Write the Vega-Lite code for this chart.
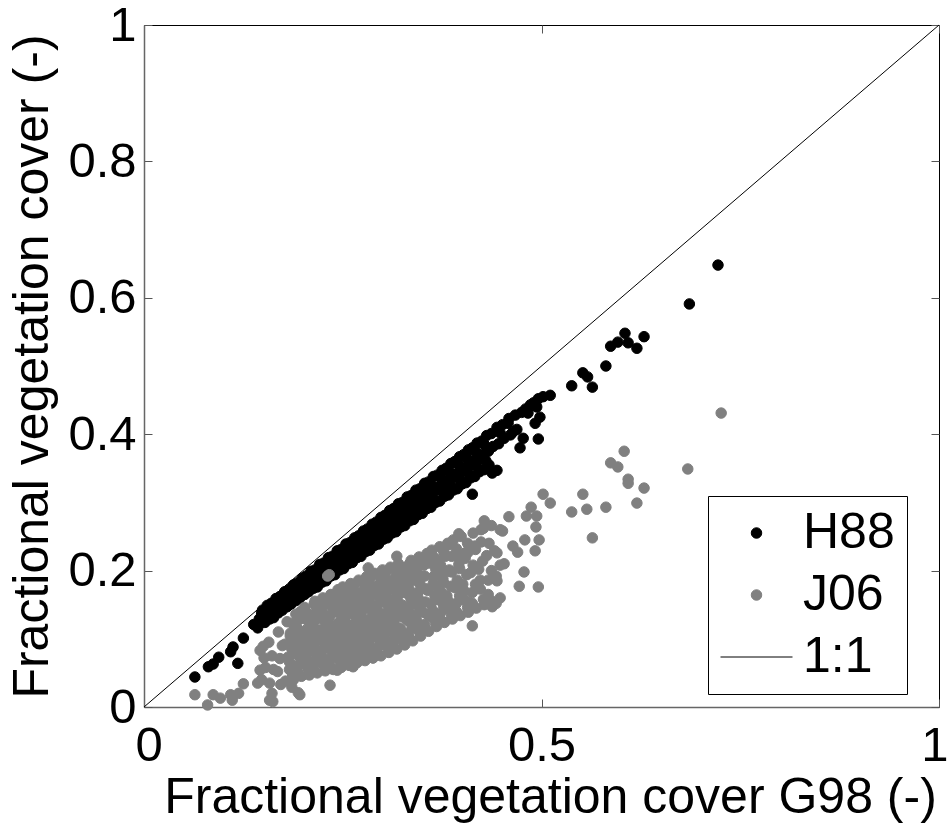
{
  "$schema": "https://vega.github.io/schema/vega-lite/v6.json",
  "width": 795,
  "height": 682,
  "autosize": "none",
  "padding": {"left": 144, "top": 25, "right": 10, "bottom": 117},
  "background": "white",
  "config": {
    "font": "Liberation Sans",
    "view": {"stroke": "#000000", "strokeWidth": 1}
  },
  "datasets": {
    "ref": [{"x": 0, "y": 0}, {"x": 1, "y": 1}],
    "pts": [
      {"s":"H88","x":0.064,"y":0.044},{"s":"H88","x":0.081,"y":0.059},{"s":"H88","x":0.087,"y":0.063},{"s":"H88","x":0.094,"y":0.073},
      {"s":"H88","x":0.109,"y":0.081},{"s":"H88","x":0.112,"y":0.088},{"s":"H88","x":0.118,"y":0.064},{"s":"H88","x":0.125,"y":0.101},
      {"s":"H88","x":0.138,"y":0.121},{"s":"H88","x":0.143,"y":0.116},{"s":"H88","x":0.145,"y":0.129},{"s":"H88","x":0.148,"y":0.138},
      {"s":"H88","x":0.149,"y":0.142},{"s":"H88","x":0.151,"y":0.134},{"s":"H88","x":0.152,"y":0.124},
      {"s":"H88","x":0.155,"y":0.149},{"s":"H88","x":0.157,"y":0.137},{"s":"H88","x":0.158,"y":0.129},
      {"s":"H88","x":0.160,"y":0.152},{"s":"H88","x":0.162,"y":0.143},{"s":"H88","x":0.163,"y":0.131},
      {"s":"H88","x":0.166,"y":0.159},{"s":"H88","x":0.168,"y":0.147},{"s":"H88","x":0.169,"y":0.138},
      {"s":"H88","x":0.171,"y":0.162},{"s":"H88","x":0.173,"y":0.153},{"s":"H88","x":0.174,"y":0.142},
      {"s":"H88","x":0.177,"y":0.169},{"s":"H88","x":0.179,"y":0.156},{"s":"H88","x":0.180,"y":0.147},
      {"s":"H88","x":0.182,"y":0.172},{"s":"H88","x":0.184,"y":0.162},{"s":"H88","x":0.185,"y":0.151},
      {"s":"H88","x":0.188,"y":0.179},{"s":"H88","x":0.190,"y":0.166},{"s":"H88","x":0.191,"y":0.156},
      {"s":"H88","x":0.193,"y":0.182},{"s":"H88","x":0.195,"y":0.172},{"s":"H88","x":0.196,"y":0.160},
      {"s":"H88","x":0.199,"y":0.189},{"s":"H88","x":0.201,"y":0.175},{"s":"H88","x":0.202,"y":0.165},
      {"s":"H88","x":0.204,"y":0.192},{"s":"H88","x":0.206,"y":0.181},{"s":"H88","x":0.207,"y":0.169},
      {"s":"H88","x":0.210,"y":0.199},{"s":"H88","x":0.212,"y":0.184},{"s":"H88","x":0.213,"y":0.174},
      {"s":"H88","x":0.215,"y":0.201},{"s":"H88","x":0.217,"y":0.191},{"s":"H88","x":0.218,"y":0.176},
      {"s":"H88","x":0.221,"y":0.209},{"s":"H88","x":0.223,"y":0.194},{"s":"H88","x":0.224,"y":0.183},
      {"s":"H88","x":0.226,"y":0.211},{"s":"H88","x":0.228,"y":0.200},{"s":"H88","x":0.229,"y":0.185},
      {"s":"H88","x":0.232,"y":0.219},{"s":"H88","x":0.234,"y":0.203},{"s":"H88","x":0.235,"y":0.192},
      {"s":"H88","x":0.237,"y":0.221},{"s":"H88","x":0.239,"y":0.210},{"s":"H88","x":0.240,"y":0.194},
      {"s":"H88","x":0.243,"y":0.229},{"s":"H88","x":0.245,"y":0.213},{"s":"H88","x":0.246,"y":0.201},
      {"s":"H88","x":0.248,"y":0.231},{"s":"H88","x":0.250,"y":0.219},{"s":"H88","x":0.251,"y":0.203},
      {"s":"H88","x":0.254,"y":0.239},{"s":"H88","x":0.256,"y":0.222},{"s":"H88","x":0.257,"y":0.210},
      {"s":"H88","x":0.259,"y":0.241},{"s":"H88","x":0.261,"y":0.229},{"s":"H88","x":0.262,"y":0.212},
      {"s":"H88","x":0.265,"y":0.248},{"s":"H88","x":0.267,"y":0.232},{"s":"H88","x":0.268,"y":0.219},
      {"s":"H88","x":0.270,"y":0.251},{"s":"H88","x":0.272,"y":0.238},{"s":"H88","x":0.273,"y":0.221},
      {"s":"H88","x":0.276,"y":0.258},{"s":"H88","x":0.278,"y":0.241},{"s":"H88","x":0.279,"y":0.228},
      {"s":"H88","x":0.281,"y":0.261},{"s":"H88","x":0.283,"y":0.248},{"s":"H88","x":0.284,"y":0.230},
      {"s":"H88","x":0.287,"y":0.268},{"s":"H88","x":0.289,"y":0.251},{"s":"H88","x":0.290,"y":0.237},
      {"s":"H88","x":0.292,"y":0.271},{"s":"H88","x":0.294,"y":0.257},{"s":"H88","x":0.295,"y":0.239},
      {"s":"H88","x":0.298,"y":0.278},{"s":"H88","x":0.300,"y":0.260},{"s":"H88","x":0.301,"y":0.246},
      {"s":"H88","x":0.303,"y":0.281},{"s":"H88","x":0.305,"y":0.266},{"s":"H88","x":0.306,"y":0.248},
      {"s":"H88","x":0.309,"y":0.288},{"s":"H88","x":0.311,"y":0.270},{"s":"H88","x":0.312,"y":0.255},
      {"s":"H88","x":0.314,"y":0.291},{"s":"H88","x":0.316,"y":0.276},{"s":"H88","x":0.317,"y":0.257},
      {"s":"H88","x":0.320,"y":0.298},{"s":"H88","x":0.322,"y":0.279},{"s":"H88","x":0.323,"y":0.264},
      {"s":"H88","x":0.325,"y":0.300},{"s":"H88","x":0.327,"y":0.285},{"s":"H88","x":0.328,"y":0.266},
      {"s":"H88","x":0.331,"y":0.308},{"s":"H88","x":0.333,"y":0.289},{"s":"H88","x":0.334,"y":0.273},
      {"s":"H88","x":0.336,"y":0.310},{"s":"H88","x":0.338,"y":0.295},{"s":"H88","x":0.339,"y":0.275},
      {"s":"H88","x":0.342,"y":0.318},{"s":"H88","x":0.344,"y":0.298},{"s":"H88","x":0.345,"y":0.282},
      {"s":"H88","x":0.347,"y":0.320},{"s":"H88","x":0.349,"y":0.304},{"s":"H88","x":0.350,"y":0.284},
      {"s":"H88","x":0.353,"y":0.328},{"s":"H88","x":0.355,"y":0.307},{"s":"H88","x":0.356,"y":0.291},
      {"s":"H88","x":0.358,"y":0.330},{"s":"H88","x":0.360,"y":0.314},{"s":"H88","x":0.361,"y":0.293},
      {"s":"H88","x":0.364,"y":0.338},{"s":"H88","x":0.366,"y":0.317},{"s":"H88","x":0.367,"y":0.300},
      {"s":"H88","x":0.369,"y":0.340},{"s":"H88","x":0.371,"y":0.323},{"s":"H88","x":0.372,"y":0.302},
      {"s":"H88","x":0.375,"y":0.347},{"s":"H88","x":0.377,"y":0.326},{"s":"H88","x":0.378,"y":0.309},
      {"s":"H88","x":0.380,"y":0.350},{"s":"H88","x":0.382,"y":0.333},{"s":"H88","x":0.383,"y":0.311},
      {"s":"H88","x":0.386,"y":0.357},{"s":"H88","x":0.388,"y":0.336},{"s":"H88","x":0.389,"y":0.318},
      {"s":"H88","x":0.391,"y":0.360},{"s":"H88","x":0.393,"y":0.342},{"s":"H88","x":0.394,"y":0.320},
      {"s":"H88","x":0.397,"y":0.367},{"s":"H88","x":0.399,"y":0.345},{"s":"H88","x":0.400,"y":0.327},
      {"s":"H88","x":0.402,"y":0.370},{"s":"H88","x":0.404,"y":0.352},{"s":"H88","x":0.405,"y":0.329},
      {"s":"H88","x":0.408,"y":0.377},{"s":"H88","x":0.410,"y":0.355},{"s":"H88","x":0.411,"y":0.336},
      {"s":"H88","x":0.413,"y":0.380},{"s":"H88","x":0.415,"y":0.361},{"s":"H88","x":0.416,"y":0.338},
      {"s":"H88","x":0.419,"y":0.387},{"s":"H88","x":0.421,"y":0.364},{"s":"H88","x":0.422,"y":0.345},
      {"s":"H88","x":0.425,"y":0.390},{"s":"H88","x":0.427,"y":0.371},{"s":"H88","x":0.428,"y":0.348},
      {"s":"H88","x":0.431,"y":0.398},{"s":"H88","x":0.433,"y":0.375},{"s":"H88","x":0.434,"y":0.355},
      {"s":"H88","x":0.437,"y":0.401},{"s":"H88","x":0.439,"y":0.382},{"s":"H88","x":0.444,"y":0.410},
      {"s":"H88","x":0.446,"y":0.386},{"s":"H88","x":0.451,"y":0.414},{"s":"H88","x":0.453,"y":0.394},
      {"s":"H88","x":0.459,"y":0.423},{"s":"H88","x":0.461,"y":0.399},{"s":"H88","x":0.467,"y":0.428},
      {"s":"H88","x":0.469,"y":0.407},{"s":"H88","x":0.475,"y":0.432},{"s":"H88","x":0.480,"y":0.437},
      {"s":"H88","x":0.486,"y":0.443},{"s":"H88","x":0.490,"y":0.446},{"s":"H88","x":0.496,"y":0.452},
      {"s":"H88","x":0.203,"y":0.178},{"s":"H88","x":0.214,"y":0.188},{"s":"H88","x":0.225,"y":0.197},
      {"s":"H88","x":0.236,"y":0.207},{"s":"H88","x":0.247,"y":0.216},{"s":"H88","x":0.258,"y":0.226},
      {"s":"H88","x":0.269,"y":0.235},{"s":"H88","x":0.280,"y":0.244},{"s":"H88","x":0.291,"y":0.254},
      {"s":"H88","x":0.302,"y":0.264},{"s":"H88","x":0.313,"y":0.273},{"s":"H88","x":0.324,"y":0.283},
      {"s":"H88","x":0.335,"y":0.292},{"s":"H88","x":0.346,"y":0.302},{"s":"H88","x":0.357,"y":0.311},
      {"s":"H88","x":0.368,"y":0.321},{"s":"H88","x":0.379,"y":0.330},{"s":"H88","x":0.390,"y":0.340},
      {"s":"H88","x":0.401,"y":0.349},{"s":"H88","x":0.412,"y":0.358},{"s":"H88","x":0.423,"y":0.368},
      {"s":"H88","x":0.434,"y":0.377},
      {"s":"H88","x":0.155,"y":0.131},{"s":"H88","x":0.166,"y":0.141},{"s":"H88","x":0.177,"y":0.150},{"s":"H88","x":0.188,"y":0.157},
      {"s":"H88","x":0.199,"y":0.168},{"s":"H88","x":0.210,"y":0.178},{"s":"H88","x":0.221,"y":0.185},{"s":"H88","x":0.232,"y":0.196},
      {"s":"H88","x":0.243,"y":0.203},{"s":"H88","x":0.254,"y":0.214},{"s":"H88","x":0.265,"y":0.223},{"s":"H88","x":0.276,"y":0.231},
      {"s":"H88","x":0.287,"y":0.242},{"s":"H88","x":0.298,"y":0.250},{"s":"H88","x":0.309,"y":0.260},{"s":"H88","x":0.320,"y":0.268},
      {"s":"H88","x":0.331,"y":0.279},{"s":"H88","x":0.342,"y":0.287},{"s":"H88","x":0.353,"y":0.297},{"s":"H88","x":0.364,"y":0.305},
      {"s":"H88","x":0.375,"y":0.316},{"s":"H88","x":0.386,"y":0.324},{"s":"H88","x":0.397,"y":0.334},{"s":"H88","x":0.408,"y":0.343},
      {"s":"H88","x":0.419,"y":0.352},{"s":"H88","x":0.430,"y":0.361},
      {"s":"H88","x":0.160,"y":0.146},{"s":"H88","x":0.171,"y":0.155},{"s":"H88","x":0.186,"y":0.168},{"s":"H88","x":0.197,"y":0.177},
      {"s":"H88","x":0.208,"y":0.188},{"s":"H88","x":0.219,"y":0.197},{"s":"H88","x":0.230,"y":0.207},{"s":"H88","x":0.241,"y":0.217},
      {"s":"H88","x":0.252,"y":0.227},{"s":"H88","x":0.263,"y":0.237},{"s":"H88","x":0.274,"y":0.246},{"s":"H88","x":0.285,"y":0.257},
      {"s":"H88","x":0.296,"y":0.266},{"s":"H88","x":0.307,"y":0.277},{"s":"H88","x":0.318,"y":0.286},{"s":"H88","x":0.329,"y":0.296},
      {"s":"H88","x":0.340,"y":0.306},{"s":"H88","x":0.351,"y":0.316},{"s":"H88","x":0.362,"y":0.325},{"s":"H88","x":0.373,"y":0.336},
      {"s":"H88","x":0.384,"y":0.345},{"s":"H88","x":0.395,"y":0.356},{"s":"H88","x":0.406,"y":0.365},{"s":"H88","x":0.417,"y":0.375},
      {"s":"H88","x":0.428,"y":0.385},
      {"s":"H88","x":0.413,"y":0.312},{"s":"H88","x":0.438,"y":0.343},{"s":"H88","x":0.444,"y":0.347},
      {"s":"H88","x":0.448,"y":0.402},{"s":"H88","x":0.458,"y":0.416},{"s":"H88","x":0.464,"y":0.403},
      {"s":"H88","x":0.473,"y":0.380},{"s":"H88","x":0.477,"y":0.394},{"s":"H88","x":0.483,"y":0.431},
      {"s":"H88","x":0.492,"y":0.416},{"s":"H88","x":0.494,"y":0.440},{"s":"H88","x":0.496,"y":0.393},
      {"s":"H88","x":0.498,"y":0.425},{"s":"H88","x":0.502,"y":0.455},{"s":"H88","x":0.511,"y":0.457},
      {"s":"H88","x":0.538,"y":0.471},{"s":"H88","x":0.552,"y":0.490},{"s":"H88","x":0.558,"y":0.484},
      {"s":"H88","x":0.564,"y":0.469},{"s":"H88","x":0.581,"y":0.500},{"s":"H88","x":0.587,"y":0.529},
      {"s":"H88","x":0.596,"y":0.535},{"s":"H88","x":0.605,"y":0.548},{"s":"H88","x":0.609,"y":0.534},
      {"s":"H88","x":0.620,"y":0.526},{"s":"H88","x":0.629,"y":0.543},{"s":"H88","x":0.686,"y":0.591},
      {"s":"H88","x":0.722,"y":0.648},

      {"s":"J06","x":0.148,"y":0.040},{"s":"J06","x":0.153,"y":0.058},{"s":"J06","x":0.151,"y":0.072},{"s":"J06","x":0.146,"y":0.083},
      {"s":"J06","x":0.158,"y":0.035},{"s":"J06","x":0.163,"y":0.055},{"s":"J06","x":0.161,"y":0.075},{"s":"J06","x":0.157,"y":0.095},
      {"s":"J06","x":0.172,"y":0.033},{"s":"J06","x":0.168,"y":0.052},{"s":"J06","x":0.171,"y":0.071},{"s":"J06","x":0.174,"y":0.090},{"s":"J06","x":0.169,"y":0.110},
      {"s":"J06","x":0.178,"y":0.038},{"s":"J06","x":0.183,"y":0.055},{"s":"J06","x":0.181,"y":0.073},{"s":"J06","x":0.177,"y":0.092},{"s":"J06","x":0.184,"y":0.108},{"s":"J06","x":0.180,"y":0.125},
      {"s":"J06","x":0.188,"y":0.040},{"s":"J06","x":0.192,"y":0.060},{"s":"J06","x":0.190,"y":0.078},{"s":"J06","x":0.187,"y":0.097},{"s":"J06","x":0.193,"y":0.115},{"s":"J06","x":0.191,"y":0.136},
      {"s":"J06","x":0.198,"y":0.045},{"s":"J06","x":0.203,"y":0.062},{"s":"J06","x":0.201,"y":0.080},{"s":"J06","x":0.197,"y":0.097},{"s":"J06","x":0.204,"y":0.113},{"s":"J06","x":0.199,"y":0.130},{"s":"J06","x":0.202,"y":0.146},
      {"s":"J06","x":0.208,"y":0.047},{"s":"J06","x":0.212,"y":0.066},{"s":"J06","x":0.211,"y":0.083},{"s":"J06","x":0.207,"y":0.101},{"s":"J06","x":0.213,"y":0.118},{"s":"J06","x":0.209,"y":0.135},{"s":"J06","x":0.214,"y":0.151},
      {"s":"J06","x":0.218,"y":0.050},{"s":"J06","x":0.223,"y":0.066},{"s":"J06","x":0.221,"y":0.082},{"s":"J06","x":0.217,"y":0.098},{"s":"J06","x":0.224,"y":0.114},{"s":"J06","x":0.219,"y":0.130},{"s":"J06","x":0.222,"y":0.145},{"s":"J06","x":0.226,"y":0.158},
      {"s":"J06","x":0.228,"y":0.053},{"s":"J06","x":0.233,"y":0.070},{"s":"J06","x":0.231,"y":0.087},{"s":"J06","x":0.227,"y":0.103},{"s":"J06","x":0.234,"y":0.119},{"s":"J06","x":0.229,"y":0.135},{"s":"J06","x":0.232,"y":0.151},{"s":"J06","x":0.236,"y":0.164},
      {"s":"J06","x":0.238,"y":0.055},{"s":"J06","x":0.243,"y":0.072},{"s":"J06","x":0.241,"y":0.089},{"s":"J06","x":0.237,"y":0.106},{"s":"J06","x":0.244,"y":0.122},{"s":"J06","x":0.239,"y":0.139},{"s":"J06","x":0.242,"y":0.155},{"s":"J06","x":0.246,"y":0.170},
      {"s":"J06","x":0.248,"y":0.058},{"s":"J06","x":0.253,"y":0.073},{"s":"J06","x":0.251,"y":0.088},{"s":"J06","x":0.247,"y":0.103},{"s":"J06","x":0.254,"y":0.118},{"s":"J06","x":0.249,"y":0.133},{"s":"J06","x":0.252,"y":0.148},{"s":"J06","x":0.256,"y":0.163},{"s":"J06","x":0.250,"y":0.176},
      {"s":"J06","x":0.258,"y":0.061},{"s":"J06","x":0.263,"y":0.076},{"s":"J06","x":0.261,"y":0.091},{"s":"J06","x":0.257,"y":0.106},{"s":"J06","x":0.264,"y":0.121},{"s":"J06","x":0.259,"y":0.137},{"s":"J06","x":0.262,"y":0.152},{"s":"J06","x":0.266,"y":0.167},{"s":"J06","x":0.260,"y":0.181},
      {"s":"J06","x":0.268,"y":0.065},{"s":"J06","x":0.273,"y":0.080},{"s":"J06","x":0.271,"y":0.095},{"s":"J06","x":0.267,"y":0.110},{"s":"J06","x":0.274,"y":0.125},{"s":"J06","x":0.269,"y":0.141},{"s":"J06","x":0.272,"y":0.156},{"s":"J06","x":0.276,"y":0.171},{"s":"J06","x":0.270,"y":0.186},
      {"s":"J06","x":0.278,"y":0.068},{"s":"J06","x":0.283,"y":0.083},{"s":"J06","x":0.281,"y":0.099},{"s":"J06","x":0.277,"y":0.114},{"s":"J06","x":0.284,"y":0.129},{"s":"J06","x":0.279,"y":0.145},{"s":"J06","x":0.282,"y":0.160},{"s":"J06","x":0.286,"y":0.176},{"s":"J06","x":0.280,"y":0.191},
      {"s":"J06","x":0.288,"y":0.072},{"s":"J06","x":0.293,"y":0.087},{"s":"J06","x":0.291,"y":0.103},{"s":"J06","x":0.287,"y":0.118},{"s":"J06","x":0.294,"y":0.134},{"s":"J06","x":0.289,"y":0.149},{"s":"J06","x":0.292,"y":0.165},{"s":"J06","x":0.296,"y":0.180},{"s":"J06","x":0.290,"y":0.196},
      {"s":"J06","x":0.298,"y":0.075},{"s":"J06","x":0.303,"y":0.091},{"s":"J06","x":0.301,"y":0.107},{"s":"J06","x":0.297,"y":0.122},{"s":"J06","x":0.304,"y":0.138},{"s":"J06","x":0.299,"y":0.154},{"s":"J06","x":0.302,"y":0.169},{"s":"J06","x":0.306,"y":0.185},{"s":"J06","x":0.300,"y":0.201},
      {"s":"J06","x":0.308,"y":0.080},{"s":"J06","x":0.313,"y":0.096},{"s":"J06","x":0.311,"y":0.111},{"s":"J06","x":0.307,"y":0.127},{"s":"J06","x":0.314,"y":0.142},{"s":"J06","x":0.309,"y":0.158},{"s":"J06","x":0.312,"y":0.173},{"s":"J06","x":0.316,"y":0.189},{"s":"J06","x":0.310,"y":0.205},
      {"s":"J06","x":0.318,"y":0.085},{"s":"J06","x":0.323,"y":0.100},{"s":"J06","x":0.321,"y":0.116},{"s":"J06","x":0.317,"y":0.131},{"s":"J06","x":0.324,"y":0.147},{"s":"J06","x":0.319,"y":0.162},{"s":"J06","x":0.322,"y":0.178},{"s":"J06","x":0.326,"y":0.194},{"s":"J06","x":0.320,"y":0.210},
      {"s":"J06","x":0.328,"y":0.091},{"s":"J06","x":0.333,"y":0.109},{"s":"J06","x":0.331,"y":0.127},{"s":"J06","x":0.327,"y":0.145},{"s":"J06","x":0.334,"y":0.163},{"s":"J06","x":0.329,"y":0.181},{"s":"J06","x":0.332,"y":0.198},{"s":"J06","x":0.336,"y":0.215},
      {"s":"J06","x":0.338,"y":0.097},{"s":"J06","x":0.343,"y":0.115},{"s":"J06","x":0.341,"y":0.133},{"s":"J06","x":0.337,"y":0.151},{"s":"J06","x":0.344,"y":0.168},{"s":"J06","x":0.339,"y":0.186},{"s":"J06","x":0.342,"y":0.203},{"s":"J06","x":0.346,"y":0.220},
      {"s":"J06","x":0.348,"y":0.104},{"s":"J06","x":0.353,"y":0.121},{"s":"J06","x":0.351,"y":0.139},{"s":"J06","x":0.347,"y":0.156},{"s":"J06","x":0.354,"y":0.173},{"s":"J06","x":0.349,"y":0.191},{"s":"J06","x":0.352,"y":0.208},{"s":"J06","x":0.356,"y":0.225},
      {"s":"J06","x":0.358,"y":0.111},{"s":"J06","x":0.363,"y":0.131},{"s":"J06","x":0.361,"y":0.151},{"s":"J06","x":0.357,"y":0.171},{"s":"J06","x":0.364,"y":0.191},{"s":"J06","x":0.359,"y":0.211},{"s":"J06","x":0.362,"y":0.230},
      {"s":"J06","x":0.368,"y":0.118},{"s":"J06","x":0.373,"y":0.138},{"s":"J06","x":0.371,"y":0.157},{"s":"J06","x":0.367,"y":0.177},{"s":"J06","x":0.374,"y":0.196},{"s":"J06","x":0.369,"y":0.216},{"s":"J06","x":0.372,"y":0.235},
      {"s":"J06","x":0.378,"y":0.124},{"s":"J06","x":0.383,"y":0.143},{"s":"J06","x":0.381,"y":0.163},{"s":"J06","x":0.377,"y":0.182},{"s":"J06","x":0.384,"y":0.201},{"s":"J06","x":0.379,"y":0.221},{"s":"J06","x":0.382,"y":0.240},
      {"s":"J06","x":0.388,"y":0.129},{"s":"J06","x":0.393,"y":0.152},{"s":"J06","x":0.391,"y":0.175},{"s":"J06","x":0.387,"y":0.198},{"s":"J06","x":0.394,"y":0.221},{"s":"J06","x":0.389,"y":0.245},
      {"s":"J06","x":0.398,"y":0.134},{"s":"J06","x":0.403,"y":0.157},{"s":"J06","x":0.401,"y":0.180},{"s":"J06","x":0.397,"y":0.203},{"s":"J06","x":0.404,"y":0.226},{"s":"J06","x":0.399,"y":0.250},
      {"s":"J06","x":0.408,"y":0.139},{"s":"J06","x":0.413,"y":0.168},{"s":"J06","x":0.411,"y":0.197},{"s":"J06","x":0.407,"y":0.226},{"s":"J06","x":0.414,"y":0.255},
      {"s":"J06","x":0.418,"y":0.145},{"s":"J06","x":0.423,"y":0.173},{"s":"J06","x":0.421,"y":0.202},{"s":"J06","x":0.417,"y":0.231},{"s":"J06","x":0.424,"y":0.260},
      {"s":"J06","x":0.428,"y":0.150},{"s":"J06","x":0.433,"y":0.186},{"s":"J06","x":0.431,"y":0.222},{"s":"J06","x":0.427,"y":0.262},
      {"s":"J06","x":0.438,"y":0.155},{"s":"J06","x":0.443,"y":0.192},{"s":"J06","x":0.441,"y":0.229},{"s":"J06","x":0.437,"y":0.266},
      {"s":"J06","x":0.448,"y":0.160},{"s":"J06","x":0.453,"y":0.210},{"s":"J06","x":0.451,"y":0.258},
      {"s":"J06","x":0.187,"y":0.047},{"s":"J06","x":0.183,"y":0.066},{"s":"J06","x":0.186,"y":0.085},{"s":"J06","x":0.184,"y":0.104},{"s":"J06","x":0.187,"y":0.122},
      {"s":"J06","x":0.193,"y":0.052},{"s":"J06","x":0.197,"y":0.071},{"s":"J06","x":0.194,"y":0.090},{"s":"J06","x":0.196,"y":0.108},{"s":"J06","x":0.193,"y":0.126},{"s":"J06","x":0.197,"y":0.140},
      {"s":"J06","x":0.207,"y":0.055},{"s":"J06","x":0.203,"y":0.073},{"s":"J06","x":0.206,"y":0.091},{"s":"J06","x":0.204,"y":0.108},{"s":"J06","x":0.207,"y":0.125},{"s":"J06","x":0.203,"y":0.141},
      {"s":"J06","x":0.213,"y":0.058},{"s":"J06","x":0.217,"y":0.075},{"s":"J06","x":0.214,"y":0.092},{"s":"J06","x":0.216,"y":0.108},{"s":"J06","x":0.213,"y":0.124},{"s":"J06","x":0.217,"y":0.140},{"s":"J06","x":0.215,"y":0.155},
      {"s":"J06","x":0.227,"y":0.060},{"s":"J06","x":0.223,"y":0.078},{"s":"J06","x":0.226,"y":0.095},{"s":"J06","x":0.224,"y":0.111},{"s":"J06","x":0.227,"y":0.127},{"s":"J06","x":0.223,"y":0.143},{"s":"J06","x":0.225,"y":0.160},
      {"s":"J06","x":0.233,"y":0.063},{"s":"J06","x":0.237,"y":0.080},{"s":"J06","x":0.234,"y":0.097},{"s":"J06","x":0.236,"y":0.114},{"s":"J06","x":0.233,"y":0.130},{"s":"J06","x":0.237,"y":0.147},{"s":"J06","x":0.235,"y":0.165},
      {"s":"J06","x":0.247,"y":0.065},{"s":"J06","x":0.243,"y":0.081},{"s":"J06","x":0.246,"y":0.096},{"s":"J06","x":0.244,"y":0.111},{"s":"J06","x":0.247,"y":0.126},{"s":"J06","x":0.243,"y":0.141},{"s":"J06","x":0.246,"y":0.157},{"s":"J06","x":0.244,"y":0.172},
      {"s":"J06","x":0.253,"y":0.066},{"s":"J06","x":0.257,"y":0.081},{"s":"J06","x":0.254,"y":0.096},{"s":"J06","x":0.256,"y":0.111},{"s":"J06","x":0.253,"y":0.126},{"s":"J06","x":0.257,"y":0.141},{"s":"J06","x":0.254,"y":0.156},{"s":"J06","x":0.256,"y":0.171},
      {"s":"J06","x":0.267,"y":0.070},{"s":"J06","x":0.263,"y":0.085},{"s":"J06","x":0.266,"y":0.100},{"s":"J06","x":0.264,"y":0.115},{"s":"J06","x":0.267,"y":0.130},{"s":"J06","x":0.263,"y":0.146},{"s":"J06","x":0.266,"y":0.161},{"s":"J06","x":0.264,"y":0.177},
      {"s":"J06","x":0.273,"y":0.074},{"s":"J06","x":0.277,"y":0.089},{"s":"J06","x":0.274,"y":0.105},{"s":"J06","x":0.276,"y":0.120},{"s":"J06","x":0.273,"y":0.136},{"s":"J06","x":0.277,"y":0.151},{"s":"J06","x":0.274,"y":0.166},{"s":"J06","x":0.276,"y":0.182},
      {"s":"J06","x":0.287,"y":0.078},{"s":"J06","x":0.283,"y":0.093},{"s":"J06","x":0.286,"y":0.109},{"s":"J06","x":0.284,"y":0.124},{"s":"J06","x":0.287,"y":0.140},{"s":"J06","x":0.283,"y":0.156},{"s":"J06","x":0.286,"y":0.171},{"s":"J06","x":0.284,"y":0.187},
      {"s":"J06","x":0.293,"y":0.081},{"s":"J06","x":0.297,"y":0.097},{"s":"J06","x":0.294,"y":0.113},{"s":"J06","x":0.296,"y":0.128},{"s":"J06","x":0.293,"y":0.144},{"s":"J06","x":0.297,"y":0.160},{"s":"J06","x":0.294,"y":0.176},{"s":"J06","x":0.296,"y":0.192},
      {"s":"J06","x":0.307,"y":0.086},{"s":"J06","x":0.303,"y":0.102},{"s":"J06","x":0.306,"y":0.118},{"s":"J06","x":0.304,"y":0.133},{"s":"J06","x":0.307,"y":0.149},{"s":"J06","x":0.303,"y":0.165},{"s":"J06","x":0.306,"y":0.181},{"s":"J06","x":0.304,"y":0.197},
      {"s":"J06","x":0.313,"y":0.090},{"s":"J06","x":0.317,"y":0.106},{"s":"J06","x":0.314,"y":0.122},{"s":"J06","x":0.316,"y":0.138},{"s":"J06","x":0.313,"y":0.154},{"s":"J06","x":0.317,"y":0.170},{"s":"J06","x":0.314,"y":0.186},{"s":"J06","x":0.316,"y":0.200},
      {"s":"J06","x":0.327,"y":0.096},{"s":"J06","x":0.323,"y":0.114},{"s":"J06","x":0.326,"y":0.132},{"s":"J06","x":0.324,"y":0.150},{"s":"J06","x":0.327,"y":0.168},{"s":"J06","x":0.323,"y":0.186},{"s":"J06","x":0.326,"y":0.204},
      {"s":"J06","x":0.333,"y":0.102},{"s":"J06","x":0.337,"y":0.120},{"s":"J06","x":0.334,"y":0.138},{"s":"J06","x":0.336,"y":0.156},{"s":"J06","x":0.333,"y":0.174},{"s":"J06","x":0.337,"y":0.192},{"s":"J06","x":0.334,"y":0.210},
      {"s":"J06","x":0.347,"y":0.109},{"s":"J06","x":0.343,"y":0.127},{"s":"J06","x":0.346,"y":0.145},{"s":"J06","x":0.344,"y":0.163},{"s":"J06","x":0.347,"y":0.181},{"s":"J06","x":0.343,"y":0.199},{"s":"J06","x":0.346,"y":0.216},
      {"s":"J06","x":0.353,"y":0.116},{"s":"J06","x":0.357,"y":0.135},{"s":"J06","x":0.354,"y":0.154},{"s":"J06","x":0.356,"y":0.173},{"s":"J06","x":0.353,"y":0.192},{"s":"J06","x":0.357,"y":0.212},
      {"s":"J06","x":0.367,"y":0.122},{"s":"J06","x":0.363,"y":0.142},{"s":"J06","x":0.366,"y":0.162},{"s":"J06","x":0.364,"y":0.182},{"s":"J06","x":0.367,"y":0.202},{"s":"J06","x":0.363,"y":0.222},
      {"s":"J06","x":0.373,"y":0.128},{"s":"J06","x":0.377,"y":0.148},{"s":"J06","x":0.374,"y":0.168},{"s":"J06","x":0.376,"y":0.188},{"s":"J06","x":0.373,"y":0.208},{"s":"J06","x":0.377,"y":0.228},
      {"s":"J06","x":0.387,"y":0.133},{"s":"J06","x":0.383,"y":0.155},{"s":"J06","x":0.386,"y":0.177},{"s":"J06","x":0.384,"y":0.199},{"s":"J06","x":0.387,"y":0.221},{"s":"J06","x":0.383,"y":0.238},
      {"s":"J06","x":0.393,"y":0.140},{"s":"J06","x":0.397,"y":0.163},{"s":"J06","x":0.394,"y":0.186},{"s":"J06","x":0.396,"y":0.209},{"s":"J06","x":0.393,"y":0.232},
      {"s":"J06","x":0.407,"y":0.146},{"s":"J06","x":0.403,"y":0.170},{"s":"J06","x":0.406,"y":0.194},{"s":"J06","x":0.404,"y":0.218},{"s":"J06","x":0.407,"y":0.240},
      {"s":"J06","x":0.413,"y":0.152},{"s":"J06","x":0.417,"y":0.180},{"s":"J06","x":0.414,"y":0.208},{"s":"J06","x":0.416,"y":0.236},
      {"s":"J06","x":0.427,"y":0.158},{"s":"J06","x":0.423,"y":0.186},{"s":"J06","x":0.426,"y":0.214},{"s":"J06","x":0.424,"y":0.242},
      {"s":"J06","x":0.433,"y":0.165},{"s":"J06","x":0.437,"y":0.200},{"s":"J06","x":0.434,"y":0.240},
      {"s":"J06","x":0.604,"y":0.375},{"s":"J06","x":0.587,"y":0.358},{"s":"J06","x":0.596,"y":0.352},{"s":"J06","x":0.609,"y":0.334},
      {"s":"J06","x":0.609,"y":0.328},{"s":"J06","x":0.629,"y":0.321},{"s":"J06","x":0.620,"y":0.299},{"s":"J06","x":0.552,"y":0.312},
      {"s":"J06","x":0.557,"y":0.290},{"s":"J06","x":0.538,"y":0.286},{"s":"J06","x":0.581,"y":0.293},{"s":"J06","x":0.564,"y":0.248},
      {"s":"J06","x":0.502,"y":0.312},{"s":"J06","x":0.511,"y":0.299},{"s":"J06","x":0.487,"y":0.293},{"s":"J06","x":0.481,"y":0.280},
      {"s":"J06","x":0.494,"y":0.280},{"s":"J06","x":0.493,"y":0.264},{"s":"J06","x":0.459,"y":0.279},{"s":"J06","x":0.428,"y":0.273},
      {"s":"J06","x":0.448,"y":0.260},{"s":"J06","x":0.396,"y":0.254},{"s":"J06","x":0.497,"y":0.245},{"s":"J06","x":0.492,"y":0.229},
      {"s":"J06","x":0.479,"y":0.245},{"s":"J06","x":0.464,"y":0.236},{"s":"J06","x":0.470,"y":0.227},{"s":"J06","x":0.478,"y":0.198},
      {"s":"J06","x":0.472,"y":0.177},{"s":"J06","x":0.496,"y":0.176},{"s":"J06","x":0.444,"y":0.226},{"s":"J06","x":0.448,"y":0.208},
      {"s":"J06","x":0.444,"y":0.185},{"s":"J06","x":0.443,"y":0.152},{"s":"J06","x":0.438,"y":0.147},{"s":"J06","x":0.408,"y":0.154},
      {"s":"J06","x":0.413,"y":0.119},{"s":"J06","x":0.726,"y":0.431},{"s":"J06","x":0.684,"y":0.349},{"s":"J06","x":0.318,"y":0.221},
      {"s":"J06","x":0.064,"y":0.018},{"s":"J06","x":0.087,"y":0.018},{"s":"J06","x":0.080,"y":0.003},{"s":"J06","x":0.096,"y":0.013},
      {"s":"J06","x":0.109,"y":0.018},{"s":"J06","x":0.119,"y":0.020},{"s":"J06","x":0.125,"y":0.034},{"s":"J06","x":0.111,"y":0.010},
      {"s":"J06","x":0.150,"y":0.089},{"s":"J06","x":0.146,"y":0.054},{"s":"J06","x":0.143,"y":0.035},{"s":"J06","x":0.161,"y":0.020},
      {"s":"J06","x":0.162,"y":0.008},{"s":"J06","x":0.186,"y":0.029},{"s":"J06","x":0.194,"y":0.021},{"s":"J06","x":0.234,"y":0.032},
      {"s":"J06","x":0.231,"y":0.192},{"s":"J06","x":0.158,"y":0.010},{"s":"J06","x":0.196,"y":0.018},{"s":"J06","x":0.288,"y":0.072},
      {"s":"J06","x":0.263,"y":0.059},{"s":"J06","x":0.243,"y":0.054},{"s":"J06","x":0.233,"y":0.194},{"s":"J06","x":0.282,"y":0.204}
    ]
  },
  "layer": [
    {
      "data": {"name": "ref"},
      "mark": {"type": "line", "color": "#000000", "strokeWidth": 1},
      "encoding": {
        "x": {"field": "x", "type": "quantitative", "scale": {"domain": [0, 1], "nice": false, "zero": false},
          "axis": {"orient": "top", "values": [0, 0.5, 1], "labels": false, "title": null, "domain": false, "grid": false, "tickSize": -8, "tickColor": "#555555", "tickWidth": 1}},
        "y": {"field": "y", "type": "quantitative", "scale": {"domain": [0, 1], "nice": false, "zero": false},
          "axis": {"orient": "right", "values": [0, 0.2, 0.4, 0.6, 0.8, 1], "labels": false, "title": null, "domain": false, "grid": false, "tickSize": -8, "tickColor": "#555555", "tickWidth": 1}}
      }
    },
    {
      "data": {"name": "pts"},
      "mark": {"type": "point", "filled": true, "opacity": 1, "strokeWidth": 1},
      "encoding": {
        "x": {"field": "x", "type": "quantitative", "scale": {"domain": [0, 1], "nice": false, "zero": false},
          "axis": {"orient": "bottom", "values": [0, 0.5, 1], "labelExpr": "'' + datum.value", "grid": false,
            "title": "Fractional vegetation cover G98 (-)", "titleFontSize": 50, "titleFontWeight": "normal", "titleColor": "#000000", "titlePadding": 2, "titleX": 406,
            "labelFontSize": 49, "labelColor": "#000000", "labelPadding": 22, "labelFlush": true, "labelFlushOffset": 9, "labelOverlap": false,
            "domainColor": "#666666", "domainWidth": 1.5, "tickSize": -8, "tickColor": "#555555", "tickWidth": 1}},
        "y": {"field": "y", "type": "quantitative", "scale": {"domain": [0, 1], "nice": false, "zero": false},
          "axis": {"orient": "left", "values": [0, 0.2, 0.4, 0.6, 0.8, 1], "labelExpr": "'' + datum.value", "grid": false,
            "title": "Fractional vegetation cover (-)", "titleFontSize": 50, "titleFontWeight": "normal", "titleColor": "#000000", "titlePadding": 10,
            "labelFontSize": 49, "labelColor": "#000000", "labelPadding": 16, "labelFlush": false, "labelOverlap": false,
            "domainColor": "#666666", "domainWidth": 1.5, "tickSize": -8, "tickColor": "#555555", "tickWidth": 1}},
        "color": {"field": "s", "type": "nominal",
          "scale": {"domain": ["H88", "J06", "1:1"], "range": ["#000000", "#808080", "#000000"]},
          "legend": {"title": null, "orient": "none", "legendX": 564, "legendY": 471, "padding": 12,
            "strokeColor": "#000000", "fillColor": "#ffffff", "labelFontSize": 50, "labelColor": "#000000",
            "labelOffset": 10, "rowPadding": 12, "clipHeight": 50, "symbolStrokeWidth": 1, "symbolOpacity": 1}},
        "stroke": {"field": "s", "type": "nominal",
          "scale": {"domain": ["H88", "J06", "1:1"], "range": ["#000000", "#808080", "#000000"]},
          "legend": {"title": null, "orient": "none", "legendX": 564, "legendY": 471, "padding": 12,
            "strokeColor": "#000000", "fillColor": "#ffffff", "labelFontSize": 50, "labelColor": "#000000",
            "labelOffset": 10, "rowPadding": 12, "clipHeight": 50, "symbolStrokeWidth": 1, "symbolOpacity": 1}},
        "shape": {"field": "s", "type": "nominal",
          "scale": {"domain": ["H88", "J06", "1:1"], "range": ["circle", "circle", "stroke"]},
          "legend": {"title": null, "orient": "none", "legendX": 564, "legendY": 471, "padding": 12,
            "strokeColor": "#000000", "fillColor": "#ffffff", "labelFontSize": 50, "labelColor": "#000000",
            "labelOffset": 10, "rowPadding": 12, "clipHeight": 50, "symbolStrokeWidth": 1, "symbolOpacity": 1}},
        "size": {"field": "s", "type": "nominal",
          "scale": {"type": "ordinal", "domain": ["H88", "J06", "1:1"], "range": [110, 110, 5184]},
          "legend": {"title": null, "orient": "none", "legendX": 564, "legendY": 471, "padding": 12,
            "strokeColor": "#000000", "fillColor": "#ffffff", "labelFontSize": 50, "labelColor": "#000000",
            "labelOffset": 10, "rowPadding": 12, "clipHeight": 50, "symbolStrokeWidth": 1, "symbolOpacity": 1}}
      }
    }
  ],
  "resolve": {"axis": {"x": "independent", "y": "independent"}}
}
